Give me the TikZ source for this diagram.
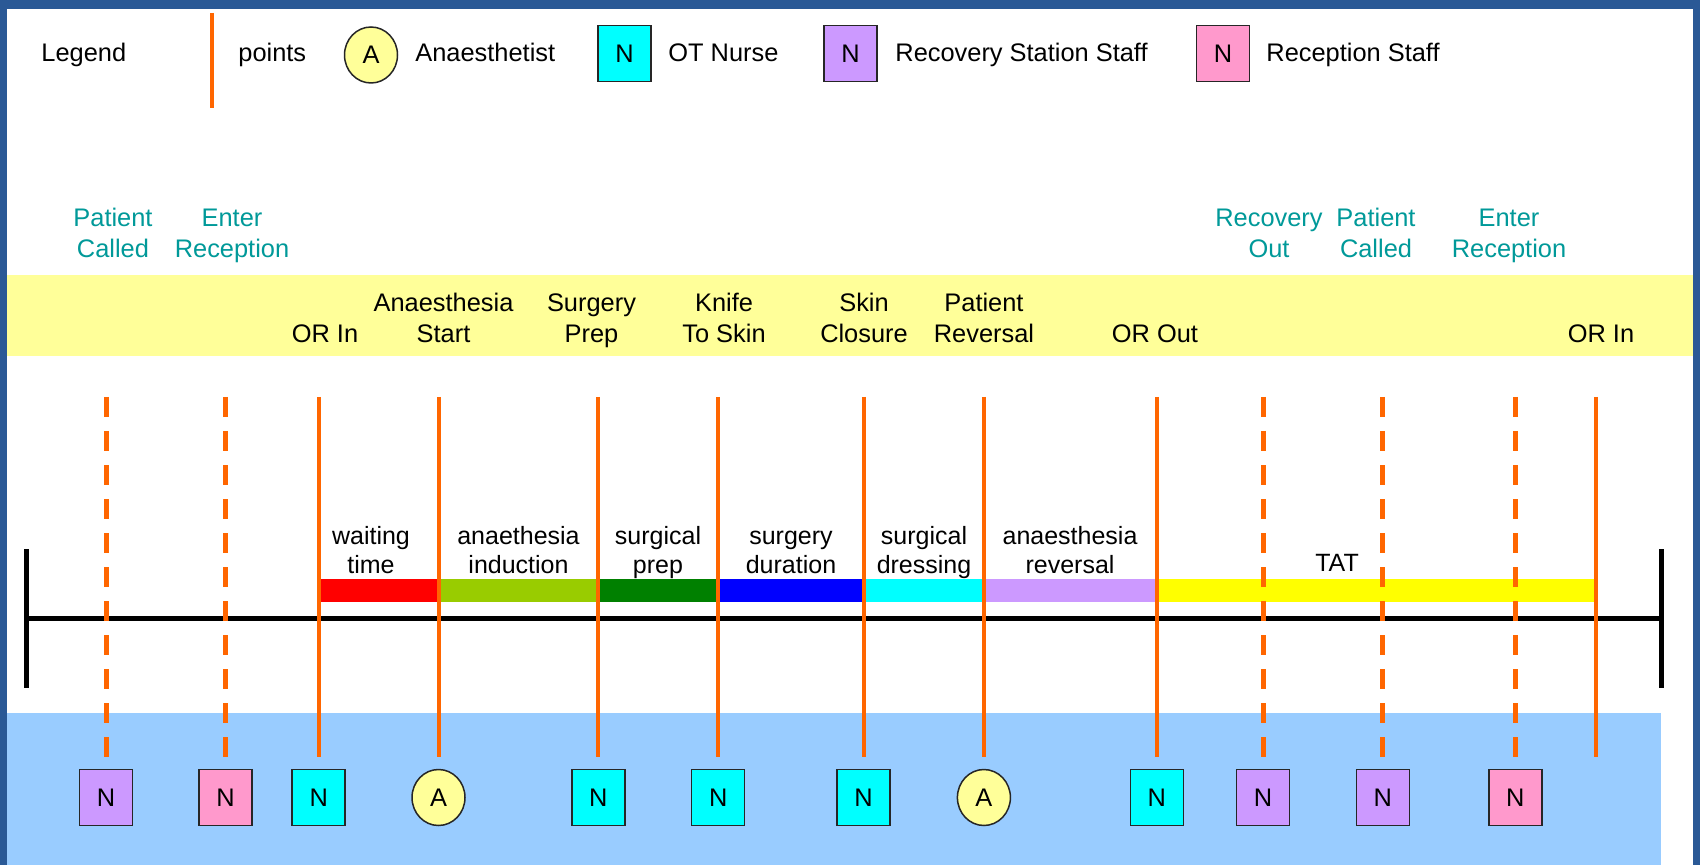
\documentclass[tikz,border=0pt]{standalone}
\usepackage{fontspec}
\setmainfont{Liberation Sans}
\usetikzlibrary{shapes.geometric}

\definecolor{frameblue}{RGB}{42,89,150}
\definecolor{bandyellow}{RGB}{255,255,153}
\definecolor{bandblue}{RGB}{153,204,255}
\definecolor{ptorange}{RGB}{255,102,0}
\definecolor{labelteal}{RGB}{0,153,153}
\definecolor{iconyellow}{RGB}{255,255,153}
\definecolor{iconcyan}{RGB}{0,255,255}
\definecolor{iconpurple}{RGB}{204,153,255}
\definecolor{iconpink}{RGB}{255,153,204}
\definecolor{barred}{RGB}{255,0,0}
\definecolor{barlime}{RGB}{153,204,0}
\definecolor{bargreen}{RGB}{0,128,0}
\definecolor{barblue}{RGB}{0,0,255}
\definecolor{barcyan}{RGB}{0,255,255}
\definecolor{barlav}{RGB}{204,153,255}
\definecolor{baryellow}{RGB}{255,255,0}

\begin{document}
\begin{tikzpicture}[x=0.5pt,y=-0.5pt,
  lab/.style={inner sep=0pt, align=center, anchor=south,
    font=\fontsize{12.7}{15.5}\selectfont},
  teallab/.style={lab, text=labelteal},
  barlab/.style={lab, font=\fontsize{12.5}{14.5}\selectfont},
  leglab/.style={lab, anchor=south west},
  ptline/.style={draw=ptorange, line width=2pt},
  ptdash/.style={draw=ptorange, line width=2.5pt, dash pattern=on 10pt off 7pt},
  axis/.style={draw=black, line width=2.5pt},
  staff/.style={draw=black!85, line width=0.75pt, minimum width=26.5pt,
    minimum height=28pt, inner sep=0pt, font=\fontsize{12.7}{15.5}\selectfont},
  nurse/.style={staff, rectangle, fill=iconcyan},
  recov/.style={staff, rectangle, fill=iconpurple},
  recep/.style={staff, rectangle, fill=iconpink},
  anaes/.style={staff, ellipse, fill=iconyellow}]

\useasboundingbox (0,0) rectangle (1700,865);

% frame and background bands
\fill[frameblue] (0,0) rectangle (1700,865);
\fill[white] (6.5,9) rectangle (1693,865);
\fill[bandyellow] (6.5,275) rectangle (1693,356);
\fill[bandblue] (6.5,713) rectangle (1661,865);

% legend
\node[leglab] (legtitle) at (41,71.3) {Legend\strut};
\coordinate (legpt-top) at (212,13);
\coordinate (legpt-end) at (212,108);
\draw[ptline] (legpt-top) -- (legpt-end);
\node[leglab] (legpoints) at (238,71.3) {points\strut};
\node[anaes] (legA) at (371,55) {A};
\node[leglab] (legAtxt) at (415,71.3) {Anaesthetist\strut};
\node[nurse] (legN) at (624.5,53.5) {N};
\node[leglab] (legNtxt) at (668,71.3) {OT Nurse\strut};
\node[recov] (legR) at (850.5,53.5) {N};
\node[leglab] (legRtxt) at (895,71.3) {Recovery Station Staff\strut};
\node[recep] (legP) at (1223,53.5) {N};
\node[leglab] (legPtxt) at (1266,71.3) {Reception Staff\strut};

% event labels above the time line
\node[teallab] (t-pcA) at (113,267.3) {Patient\strut\\Called\strut};
\node[teallab] (t-erA) at (232,267.3) {Enter\strut\\Reception\strut};
\node[teallab] (t-rout) at (1269,267.3) {Recovery\strut\\Out\strut};
\node[teallab] (t-pcB) at (1376,267.3) {Patient\strut\\Called\strut};
\node[teallab] (t-erB) at (1509,267.3) {Enter\strut\\Reception\strut};

\node[lab] (t-orinA) at (325,352.3) {OR In\strut};
\node[lab] (t-anst) at (443.5,352.3) {Anaesthesia\strut\\Start\strut};
\node[lab] (t-sprep) at (591.5,352.3) {Surgery\strut\\Prep\strut};
\node[lab] (t-knife) at (724,352.3) {Knife\strut\\To Skin\strut};
\node[lab] (t-skin) at (864,352.3) {Skin\strut\\Closure\strut};
\node[lab] (t-prev) at (984,352.3) {Patient\strut\\Reversal\strut};
\node[lab] (t-orout) at (1155,352.3) {OR Out\strut};
\node[lab] (t-orinB) at (1601,352.3) {OR In\strut};

% phase bars
\fill[barred]    (318.7,579) rectangle (438.5,602);
\fill[barlime]   (438.5,579) rectangle (598.4,602);
\fill[bargreen]  (598.4,579) rectangle (718.2,602);
\fill[barblue]   (718.2,579) rectangle (863.5,602);
\fill[barcyan]   (863.5,579) rectangle (983.9,602);
\fill[barlav]    (983.9,579) rectangle (1156.8,602);
\fill[baryellow] (1156.8,579) rectangle (1595.8,602);

\node[barlab] (b-wait) at (371,582.7) {waiting\strut\\time\strut};
\node[barlab] (b-ind) at (518.5,582.7) {anaethesia\strut\\induction\strut};
\node[barlab] (b-prep) at (658,582.7) {surgical\strut\\prep\strut};
\node[barlab] (b-dur) at (791,582.7) {surgery\strut\\duration\strut};
\node[barlab] (b-dress) at (924,582.7) {surgical\strut\\dressing\strut};
\node[barlab] (b-rev) at (1070,582.7) {anaesthesia\strut\\reversal\strut};
\node[barlab] (b-tat) at (1337,580.7) {TAT\strut};

% time axis
\coordinate (axL) at (26.6,618.3);
\coordinate (axR) at (1661,618.3);
\coordinate (axLt) at (26.6,549);
\coordinate (axLb) at (26.6,688);
\coordinate (axRt) at (1661,549);
\coordinate (axRb) at (1661,688);
\draw[axis] (axL) -- (axR);
\draw[axis] (axLt) -- (axLb);
\draw[axis] (axRt) -- (axRb);

% event points with their staff icons
\foreach \n/\x/\ls/\ic/\lt in {
  pcA/106/ptdash/recov/N, erA/225.5/ptdash/recep/N,
  orinA/318.7/ptline/nurse/N, anst/438.5/ptline/anaes/A,
  sprep/598.4/ptline/nurse/N, knife/718.2/ptline/nurse/N,
  skin/863.5/ptline/nurse/N, prev/983.9/ptline/anaes/A,
  orout/1156.8/ptline/nurse/N, rout/1263/ptdash/recov/N,
  pcB/1382.8/ptdash/recov/N, erB/1515.3/ptdash/recep/N}{
  \coordinate (\n-top) at (\x,397);
  \coordinate (\n-end) at (\x,757);
  \draw[\ls] (\n-top) -- (\n-end);
  \node[\ic] (\n-icon) at (\x,797.5) {\lt};
}
\coordinate (orinB-top) at (1595.8,397);
\coordinate (orinB-end) at (1595.8,757);
\draw[ptline] (orinB-top) -- (orinB-end);
\end{tikzpicture}
\end{document}
